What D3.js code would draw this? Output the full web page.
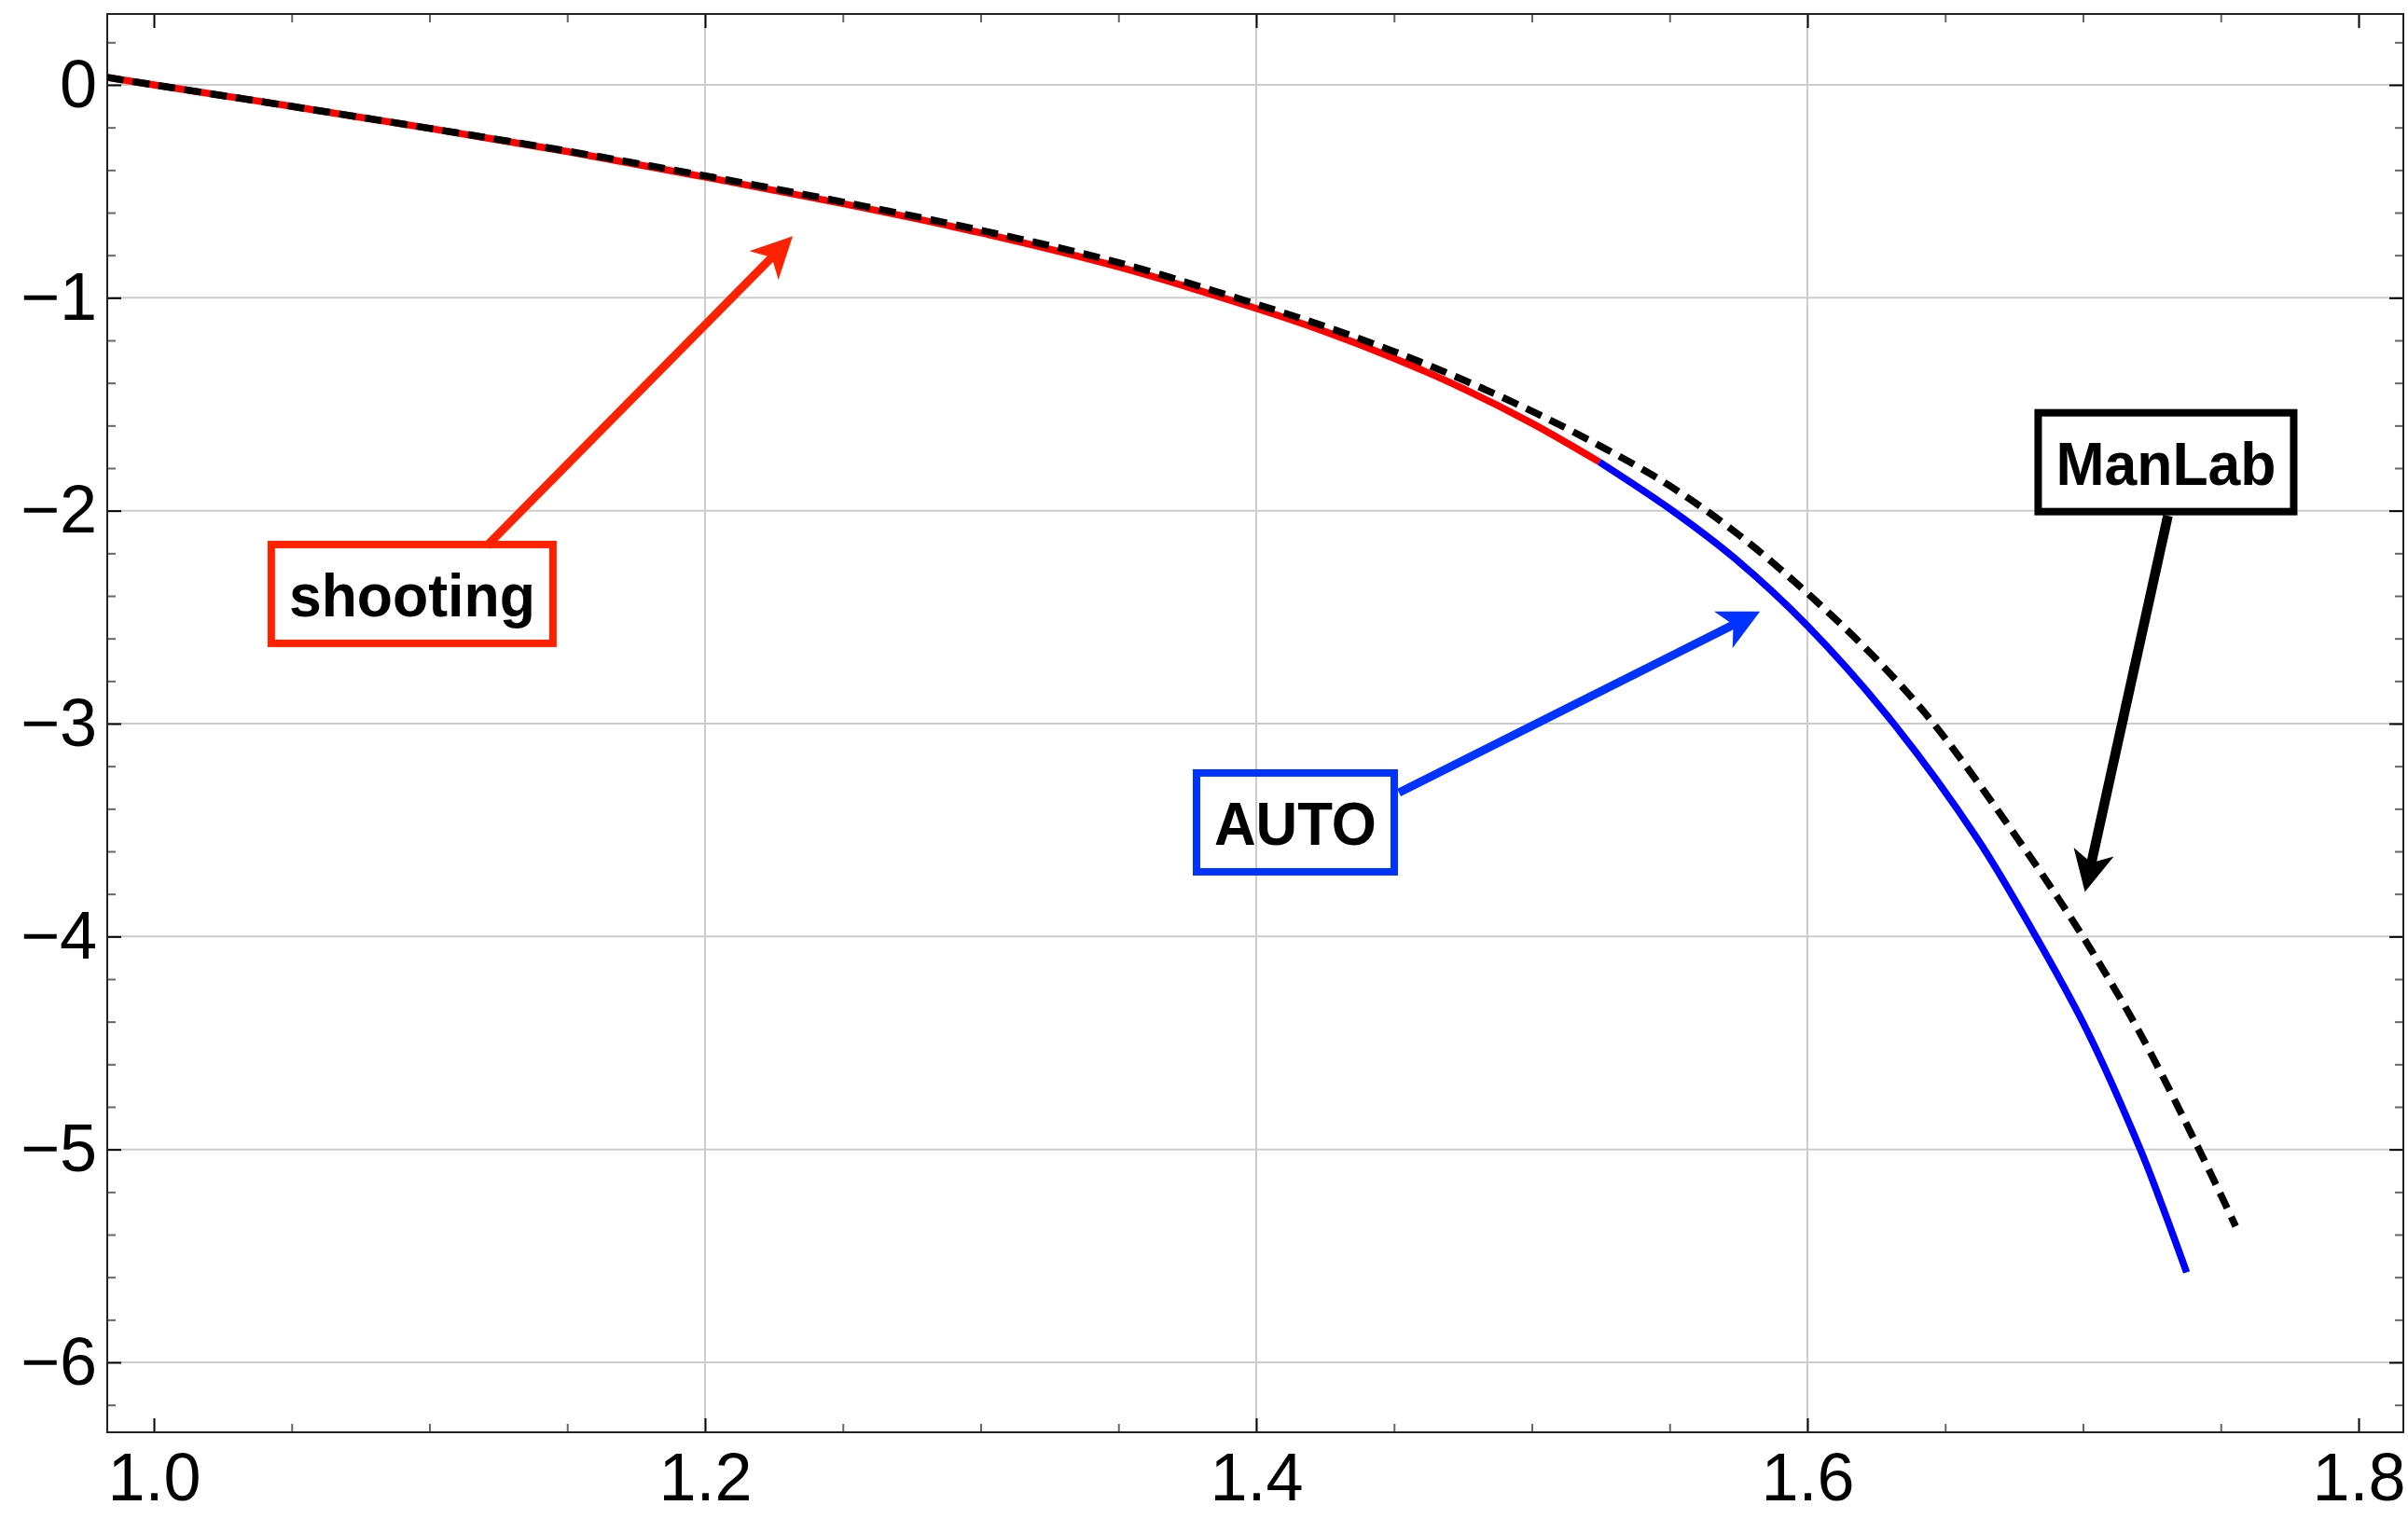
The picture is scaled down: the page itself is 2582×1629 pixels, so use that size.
<!DOCTYPE html>
<html lang="en">
<head>
    <meta charset="UTF-8">
    <title>shooting / AUTO / ManLab</title>
    <script src="https://d3js.org/d3.v7.min.js"></script>
    <style>
        body { margin: 0; background: #fff; }
        .tick text { font-family: "Liberation Sans", Arial, sans-serif; font-size: 72px; fill: #000; }
        .tick line { stroke-width: 2; }
    </style>
</head>
<body>
<div id="chart"></div>

<script>
    // curve data
    var shootingX = [0.983, 1.0, 1.05, 1.1, 1.15, 1.2, 1.25, 1.3, 1.35, 1.4, 1.425, 1.45, 1.475, 1.5, 1.5245];
    var shootingY = [0.035, 0.0, -0.101, -0.204, -0.313, -0.433, -0.558, -0.695, -0.855, -1.05, -1.159, -1.284, -1.426, -1.589, -1.771];

    var autoX = [1.5245, 1.551, 1.574, 1.6, 1.6313, 1.6616, 1.6819, 1.7014, 1.7208, 1.7289, 1.7376];
    var autoY = [-1.771, -2.0, -2.228, -2.541, -3.0, -3.539, -3.977, -4.44, -5.0, -5.27, -5.577];

    var manlabX = [0.983, 1.0, 1.05, 1.1, 1.15, 1.2, 1.25, 1.3, 1.35, 1.4, 1.425, 1.45, 1.475, 1.5, 1.525, 1.55, 1.575, 1.6, 1.625, 1.6458, 1.6762, 1.6988, 1.7201, 1.7421, 1.7554];
    var manlabY = [0.035, 0.0, -0.101, -0.204, -0.311, -0.427, -0.55, -0.683, -0.835, -1.03, -1.135, -1.2525, -1.385, -1.5325, -1.6975, -1.8825, -2.1125, -2.3875, -2.6975, -3.0, -3.539, -3.977, -4.44, -5.0, -5.361];

    var xTicks = [1.0, 1.2, 1.4, 1.6, 1.8];
    var yTicks = [0, -1, -2, -3, -4, -5, -6];
    var xGrid = [1.2, 1.4, 1.6];

    // callouts: label, box centre, arrow tail, arrow tip (data units)
    var labels = ["shooting", "AUTO", "ManLab"];
    var labelX = [1.0937, 1.4142, 1.7301];
    var labelY = [-2.391, -3.464, -1.7723];
    var tailX = [1.1208, 1.4518, 1.7308];
    var tailY = [-2.165, -3.324, -2.0234];
    var tipX = [1.2318, 1.5828, 1.7007];
    var tipY = [-0.711, -2.473, -3.791];

    var w = 2582;
    var h = 1629;
    var frameL = 115, frameR = 2577, frameT = 15, frameB = 1536;

    var svg = d3.select("#chart")
                .append("svg")
                .attr("width", w)
                .attr("height", h);

    var x = d3.scaleLinear().domain([0.98308, 1.81624]).range([frameL, frameR]);
    var y = d3.scaleLinear().domain([0.3329, -6.3285]).range([frameT, frameB]);

    // grid lines
    svg.append("g").selectAll("line")
        .data(xGrid).enter().append("line")
        .attr("x1", function(d) { return x(d); })
        .attr("x2", function(d) { return x(d); })
        .attr("y1", frameT).attr("y2", frameB)
        .attr("stroke", "#cccccc").attr("stroke-width", 2);

    svg.append("g").selectAll("line")
        .data(yTicks).enter().append("line")
        .attr("x1", frameL).attr("x2", frameR)
        .attr("y1", function(d) { return y(d); })
        .attr("y2", function(d) { return y(d); })
        .attr("stroke", "#cccccc").attr("stroke-width", 2);

    // minor tick values
    var xMinor = d3.range(20, 37).filter(function(i) { return i % 4 != 0; })
                   .map(function(i) { return i * 0.05; });
    var yMinor = d3.range(-31, 2).filter(function(i) { return i % 5 != 0; })
                   .map(function(i) { return i * 0.2; });

    function drawAxis(axis, tx, ty, color) {
        var g = svg.append("g")
                   .attr("transform", "translate(" + tx + "," + ty + ")")
                   .call(axis);
        g.select(".domain").remove();
        g.selectAll(".tick line").attr("stroke", color);
        return g;
    }

    // major ticks, labelled on bottom and left
    drawAxis(d3.axisBottom(x).tickValues(xTicks).tickSize(-15).tickPadding(22)
             .tickFormat(d3.format(".1f")), 0, frameB, "#000");
    drawAxis(d3.axisLeft(y).tickValues(yTicks).tickSize(-15).tickPadding(11)
             .tickFormat(d3.format("d")), frameL, 0, "#000");
    drawAxis(d3.axisTop(x).tickValues(xTicks).tickSize(-15).tickFormat(""), 0, frameT, "#000");
    drawAxis(d3.axisRight(y).tickValues(yTicks).tickSize(-15).tickFormat(""), frameR, 0, "#000");

    // minor ticks
    drawAxis(d3.axisBottom(x).tickValues(xMinor).tickSize(-9).tickFormat(""), 0, frameB, "#666");
    drawAxis(d3.axisTop(x).tickValues(xMinor).tickSize(-9).tickFormat(""), 0, frameT, "#666");
    drawAxis(d3.axisLeft(y).tickValues(yMinor).tickSize(-9).tickFormat(""), frameL, 0, "#666");
    drawAxis(d3.axisRight(y).tickValues(yMinor).tickSize(-9).tickFormat(""), frameR, 0, "#666");

    // frame
    svg.append("rect")
        .attr("x", frameL).attr("y", frameT)
        .attr("width", frameR - frameL).attr("height", frameB - frameT)
        .attr("fill", "none").attr("stroke", "#222").attr("stroke-width", 2);

    svg.append("clipPath").attr("id", "plot")
        .append("rect")
        .attr("x", frameL).attr("y", frameT)
        .attr("width", frameR - frameL).attr("height", frameB - frameT);

    var line = d3.line()
                 .x(function(d) { return x(d[0]); })
                 .y(function(d) { return y(d[1]); })
                 .curve(d3.curveCatmullRom.alpha(0.5));

    var curves = svg.append("g").attr("clip-path", "url(#plot)");

    curves.append("path")
        .attr("d", line(d3.zip(shootingX, shootingY)))
        .attr("fill", "none").attr("stroke", "#ff0000").attr("stroke-width", 7.5);

    curves.append("path")
        .attr("d", line(d3.zip(autoX, autoY)))
        .attr("fill", "none").attr("stroke", "#0000ff").attr("stroke-width", 7.5);

    curves.append("path")
        .attr("d", line(d3.zip(manlabX, manlabY)))
        .attr("fill", "none").attr("stroke", "#000").attr("stroke-width", 7.5)
        .attr("stroke-dasharray", "18,10");

    // callouts
    var calloutColors = ["#ff2200", "#0033ff", "#000"];
    var shaftWidths = [9, 9, 10.5];
    var boxWidths = [302, 212, 274];

    function arrow(x0, y0, x1, y1, color, width) {
        var dx = x1 - x0, dy = y1 - y0;
        var L = Math.sqrt(dx * dx + dy * dy);
        var ux = dx / L, uy = dy / L, px = -uy, py = ux;
        var len = 44, hw = 22, notch = 32;
        svg.append("line")
            .attr("x1", x0).attr("y1", y0)
            .attr("x2", x1 - ux * (notch - 2)).attr("y2", y1 - uy * (notch - 2))
            .attr("stroke", color).attr("stroke-width", width);
        var head = [
            [x1, y1],
            [x1 - ux * len + px * hw, y1 - uy * len + py * hw],
            [x1 - ux * notch, y1 - uy * notch],
            [x1 - ux * len - px * hw, y1 - uy * len - py * hw]
        ];
        svg.append("path")
            .attr("d", "M" + head.join("L") + "Z")
            .attr("fill", color);
    }

    labels.forEach(function(label, i) {
        arrow(x(tailX[i]), y(tailY[i]), x(tipX[i]), y(tipY[i]), calloutColors[i], shaftWidths[i]);

        var cx = x(labelX[i]), cy = y(labelY[i]);
        var bw = boxWidths[i], bh = 106;
        var g = svg.append("g");
        g.append("rect")
           .attr("x", cx - bw / 2).attr("y", cy - bh / 2)
           .attr("width", bw).attr("height", bh)
           .attr("fill", "none")
           .attr("stroke", calloutColors[i])
           .attr("stroke-width", 8);
        g.append("text")
            .attr("x", cx).attr("y", cy + 24)
            .attr("text-anchor", "middle")
            .attr("textLength", bw - 38)
            .attr("lengthAdjust", "spacingAndGlyphs")
            .style("font-family", "'Liberation Sans', Arial, sans-serif")
            .style("font-weight", "bold")
            .style("font-size", "64px")
            .text(label);
    });
</script>
</body>
</html>
